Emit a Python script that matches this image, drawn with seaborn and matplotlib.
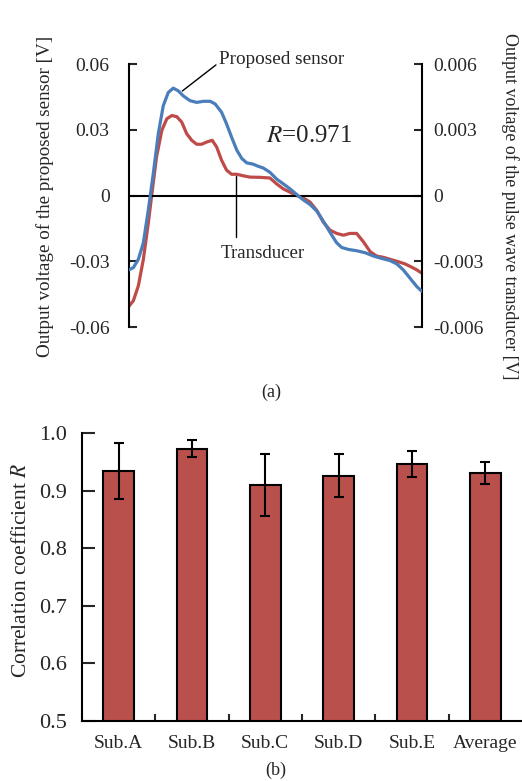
import numpy as np
import pandas as pd
import matplotlib
matplotlib.use("Agg")
import matplotlib.pyplot as plt
import seaborn as sns

# === Data: (a) pulse waveforms, normalised time ===
t_sensor = [0.000, 0.015, 0.032, 0.049, 0.066, 0.083, 0.100, 0.117, 0.134, 0.151,
            0.168, 0.185, 0.208, 0.231, 0.254, 0.277, 0.294, 0.316, 0.333, 0.350,
            0.368, 0.385, 0.402, 0.424, 0.436, 0.459, 0.481, 0.504, 0.527, 0.550,
            0.572, 0.595, 0.618, 0.641, 0.658, 0.675, 0.692, 0.709, 0.726, 0.749,
            0.777, 0.806, 0.834, 0.862, 0.891, 0.914, 0.936, 0.959, 0.982, 0.999]
v_sensor = [-0.0339, -0.0329, -0.0291, -0.0216, -0.0065, 0.0101, 0.0282, 0.0410, 0.0470, 0.0490,
            0.0478, 0.0455, 0.0433, 0.0425, 0.0430, 0.0430, 0.0418, 0.0380, 0.0327, 0.0267,
            0.0207, 0.0169, 0.0149, 0.0143, 0.0136, 0.0125, 0.0106, 0.0075, 0.0053, 0.0030,
            0.0005, -0.0020, -0.0041, -0.0071, -0.0106, -0.0143, -0.0181, -0.0216, -0.0237, -0.0246,
            -0.0252, -0.0261, -0.0276, -0.0287, -0.0297, -0.0312, -0.0339, -0.0377, -0.0415, -0.0437]

t_trans = [0.000, 0.015, 0.032, 0.049, 0.066, 0.077, 0.094, 0.112, 0.129, 0.146,
           0.163, 0.180, 0.197, 0.214, 0.231, 0.248, 0.265, 0.284, 0.299, 0.316,
           0.333, 0.350, 0.368, 0.390, 0.413, 0.447, 0.481, 0.504, 0.527, 0.550,
           0.572, 0.595, 0.618, 0.641, 0.663, 0.686, 0.709, 0.732, 0.754, 0.777,
           0.800, 0.823, 0.845, 0.868, 0.891, 0.919, 0.942, 0.965, 0.982, 0.999]
v_trans = [-0.00505, -0.00480, -0.00412, -0.00291, -0.00125, -0.00005, 0.00176, 0.00297, 0.00350, 0.00365,
           0.00360, 0.00335, 0.00282, 0.00252, 0.00234, 0.00234, 0.00244, 0.00252, 0.00222, 0.00161,
           0.00116, 0.00097, 0.00097, 0.00090, 0.00084, 0.00083, 0.00080, 0.00053, 0.00030, 0.00015,
           0.00000, -0.00011, -0.00030, -0.00068, -0.00121, -0.00158, -0.00173, -0.00181, -0.00173, -0.00173,
           -0.00211, -0.00256, -0.00276, -0.00282, -0.00291, -0.00302, -0.00312, -0.00327, -0.00339, -0.00354]

left_ticks = [-0.06, -0.03, 0, 0.03, 0.06]
left_labels = ["-0.06", "-0.03", "0", "0.03", "0.06"]
right_ticks = [-0.006, -0.003, 0, 0.003, 0.006]
right_labels = ["-0.006", "-0.003", "0", "0.003", "0.006"]

# === Data: (b) correlation per subject ===
subjects = ["Sub.A", "Sub.B", "Sub.C", "Sub.D", "Sub.E", "Average"]
corr_r = [0.934, 0.973, 0.910, 0.926, 0.946, 0.930]
corr_err = [0.048, 0.014, 0.054, 0.037, 0.022, 0.019]

sns.set_theme(style="ticks")
plt.rcParams["font.family"] = ["Liberation Serif", "DejaVu Serif"]
plt.rcParams["mathtext.fontset"] = "stix"

blue = "#4A7EBB"
red = "#BE4B48"
bar_red = "#B9504C"

fig = plt.figure(figsize=(5.22, 7.81), dpi=100)

# ---- (a) ----
ax1 = fig.add_axes([0.2471, 0.5813, 0.5613, 0.3367])
ax2 = ax1.twinx()

df_s = pd.DataFrame({"t": t_sensor, "v": v_sensor})
df_t = pd.DataFrame({"t": t_trans, "v": v_trans})
sns.lineplot(data=df_s, x="t", y="v", ax=ax1, color=blue, lw=2.3, zorder=3)
sns.lineplot(data=df_t, x="t", y="v", ax=ax2, color=red, lw=2.3, zorder=2)
ax1.set_zorder(ax2.get_zorder() + 1)
ax1.patch.set_visible(False)

ax1.axhline(0, color="black", lw=1.5, zorder=1)
for ax, ticks, labels, pad in [(ax1, left_ticks, left_labels, 14), (ax2, right_ticks, right_labels, 8)]:
    ax.set_xlim(0, 1)
    ax.set_ylim(ticks[0], ticks[-1])
    ax.set_yticks(ticks)
    ax.set_yticklabels(labels)
    ax.set_xlabel("")
    ax.set_ylabel("")
    ax.set_xticks([])
    ax.tick_params(axis="y", direction="in", length=6, width=1.5, labelsize=14, pad=pad)
    for s in ["top", "bottom"]:
        ax.spines[s].set_visible(False)
    for s in ["left", "right"]:
        ax.spines[s].set_linewidth(1.5)
        ax.spines[s].set_color("black")
ax1.spines["right"].set_visible(False)
ax2.spines["left"].set_visible(False)

ax1.annotate("Proposed sensor", xy=(0.182, 0.0477), xytext=(0.308, 0.0623),
             fontsize=13.8, va="center", ha="left", annotation_clip=False,
             arrowprops=dict(arrowstyle="-", color="black", lw=1.0,
                             shrinkA=0, shrinkB=0, relpos=(0, 0.3)))
ax1.plot([0.366, 0.366], [0.0091, -0.0191], color="black", lw=1.0, zorder=4)
ax1.text(0.455, -0.0264, "Transducer", fontsize=13.6, ha="center", va="center")
ax1.text(0.469, 0.0273, "$\\mathit{R}$=0.971", fontsize=18, ha="left", va="center")

fig.text(0.086, 0.749, "Output voltage of the proposed sensor [V]", rotation=90,
         ha="center", va="center", fontsize=13.7)
fig.text(0.977, 0.736, "Output voltage of the pulse wave transducer [V]", rotation=270,
         ha="center", va="center", fontsize=12.9)
fig.text(0.519, 0.498, "(a)", ha="center", va="center", fontsize=13)

# ---- (b) ----
ax3 = fig.add_axes([0.157, 0.0768, 0.843, 0.3688])
df_b = pd.DataFrame({"subject": subjects, "r": corr_r})
sns.barplot(data=df_b, x="subject", y="r", ax=ax3, color=bar_red, width=0.42,
            edgecolor="black", linewidth=1.5, saturation=1, errorbar=None)
ax3.errorbar(x=np.arange(len(subjects)), y=corr_r, yerr=corr_err, fmt="none",
             ecolor="black", elinewidth=1.5, capsize=3.5, capthick=1.5)
ax3.set_xlim(-0.5, len(subjects) - 0.5)
ax3.set_ylim(0.5, 1.0)
ax3.set_yticks([0.5, 0.6, 0.7, 0.8, 0.9, 1.0])
ax3.set_yticklabels(["0.5", "0.6", "0.7", "0.8", "0.9", "1.0"])
ax3.set_xlabel("")
ax3.set_ylabel("")
ax3.set_xticks(np.arange(len(subjects)))
ax3.set_xticklabels(subjects)
ax3.set_xticks(np.arange(len(subjects) - 1) + 0.5, minor=True)
ax3.tick_params(axis="x", which="major", length=0, labelsize=14, pad=10)
ax3.tick_params(axis="x", which="minor", direction="in", length=5, width=1.5)
ax3.tick_params(axis="y", direction="in", length=9, width=1.5, labelsize=16, pad=11)
for s in ["top", "right"]:
    ax3.spines[s].set_visible(False)
for s in ["left", "bottom"]:
    ax3.spines[s].set_linewidth(1.5)
    ax3.spines[s].set_color("black")

fig.text(0.042, 0.270, "Correlation coefficient $\\mathit{R}$", rotation=90,
         ha="center", va="center", fontsize=15.5)
fig.text(0.529, 0.014, "(b)", ha="center", va="center", fontsize=13)

fig.savefig("out.png", dpi=100)
